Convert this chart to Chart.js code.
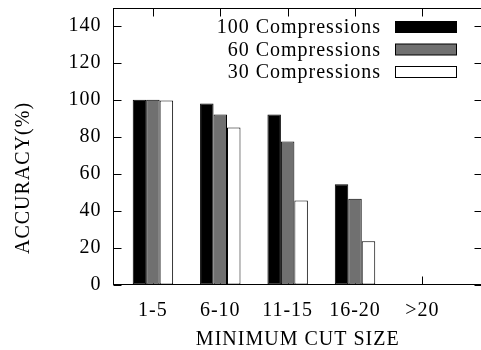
<!DOCTYPE html>
<html>
<head>
<meta charset="utf-8">
<script src="https://cdn.jsdelivr.net/npm/chart.js@4.4.1/dist/chart.umd.min.js"></script>
<style>
  html, body { margin: 0; padding: 0; background: #fff; overflow: hidden; }
  canvas { display: block; }
</style>
</head>
<body>
<canvas id="chart" width="485" height="350"></canvas>
<script>
// Accuracy by minimum cut size, grouped by number of compressions
const categories = ['1-5', '6-10', '11-15', '16-20', '>20'];
const seriesLabels = ['100 Compressions', '60 Compressions', '30 Compressions'];
const acc100 = [100, 98, 92, 54.3, 0];
const acc60 = [100, 92, 77.4, 46.4, 0];
const acc30 = [99.6, 85, 45.5, 23.4, 0];
const yTickValues = [0, 20, 40, 60, 80, 100, 120, 140];

const FONT = 'Liberation Serif';
const LETTER = '1px';

const fills = ['#000000', '#707070', '#ffffff'];
const seriesValues = [acc100, acc60, acc30];

const datasets = seriesValues.map((vals, s) => ({
  label: seriesLabels[s],
  data: vals.map((v, i) => ({ x: i, y: v })),
  backgroundColor: fills[s],
  borderColor: '#000000',
  borderWidth: 1,
  borderSkipped: false,
  categoryPercentage: 0.6,
  barPercentage: 1.0
}));

function noPadding(s) {
  s.paddingLeft = 0; s.paddingRight = 0; s.paddingTop = 0; s.paddingBottom = 0;
}

// Frame, inward (mirrored) tick marks, key and axis titles in gnuplot style
const gnuStyle = {
  id: 'gnuStyle',
  beforeLayout(chart) { chart.ctx.letterSpacing = LETTER; },
  beforeDraw(chart) { chart.ctx.letterSpacing = LETTER; },
  beforeDatasetsDraw(chart) {
    const { ctx, chartArea: a, scales } = chart;
    const L = Math.round(a.left) + 0.5, R = Math.round(a.right) - 0.5;
    const T = Math.round(a.top) + 0.5, B = Math.round(a.bottom) - 0.5;
    ctx.save();
    ctx.strokeStyle = '#000';
    ctx.lineWidth = 1;
    ctx.beginPath();
    for (const v of yTickValues) {
      const y = Math.round(scales.y.getPixelForValue(v)) + 0.5;
      ctx.moveTo(L, y); ctx.lineTo(L + 8, y);
      ctx.moveTo(R, y); ctx.lineTo(R - 8, y);
    }
    categories.forEach((_, i) => {
      const x = Math.round(scales.x.getPixelForValue(i)) + 0.5;
      ctx.moveTo(x, T); ctx.lineTo(x, T + 8);
      ctx.moveTo(x, B); ctx.lineTo(x, B - 8);
    });
    ctx.stroke();
    ctx.restore();
  },
  afterDatasetsDraw(chart) {
    const { ctx, chartArea: a } = chart;
    const L = Math.round(a.left) + 0.5, R = Math.round(a.right) - 0.5;
    const T = Math.round(a.top) + 0.5, B = Math.round(a.bottom) - 0.5;
    ctx.save();
    ctx.strokeStyle = '#000';
    ctx.lineWidth = 1;
    ctx.strokeRect(L, T, R - L, B - T);

    // key: text right-aligned, sample box to its right
    ctx.letterSpacing = LETTER;
    ctx.font = '20px "' + FONT + '"';
    ctx.textAlign = 'right';
    ctx.textBaseline = 'alphabetic';
    chart.data.datasets.forEach((ds, i) => {
      const top = 21 + i * 22.5;
      ctx.fillStyle = '#000';
      ctx.fillText(ds.label, 381, top + 12.3);
      ctx.fillStyle = ds.backgroundColor;
      ctx.fillRect(395.5, top + 0.5, 61, 11);
      ctx.strokeRect(395.5, top + 0.5, 61, 11);
    });

    // axis titles
    ctx.fillStyle = '#000';
    ctx.textAlign = 'center';
    ctx.textBaseline = 'middle';
    ctx.fillText('MINIMUM CUT SIZE', (a.left + a.right) / 2, 340);
    ctx.translate(24, 178);
    ctx.rotate(-Math.PI / 2);
    ctx.fillText('ACCURACY(%)', 0, 0);
    ctx.restore();
  }
};

new Chart(document.getElementById('chart'), {
  type: 'bar',
  data: { datasets },
  plugins: [gnuStyle],
  options: {
    responsive: false,
    animation: false,
    devicePixelRatio: 1,
    layout: { padding: { left: 0, right: 2, top: 7.5, bottom: 0 } },
    plugins: { legend: { display: false }, tooltip: { enabled: false } },
    scales: {
      x: {
        type: 'linear',
        min: -0.6,
        max: 4.9,
        offset: false,
        grid: { display: false, drawTicks: false },
        border: { display: false },
        afterBuildTicks: s => { s.ticks = categories.map((_, i) => ({ value: i })); },
        afterFit: s => { s.height = 65.5; noPadding(s); },
        ticks: {
          padding: 14,
          color: '#000',
          font: { family: FONT, size: 20 },
          maxRotation: 0,
          autoSkip: false,
          callback: v => categories[v]
        }
      },
      y: {
        type: 'linear',
        min: 0,
        max: 150,
        grid: { display: false, drawTicks: false },
        border: { display: false },
        afterBuildTicks: s => { s.ticks = yTickValues.map(v => ({ value: v })); },
        afterFit: s => { s.width = 112.5; noPadding(s); },
        ticks: {
          padding: 11,
          color: '#000',
          font: { family: FONT, size: 20 },
          callback: v => String(v)
        }
      }
    }
  }
});
</script>
</body>
</html>
